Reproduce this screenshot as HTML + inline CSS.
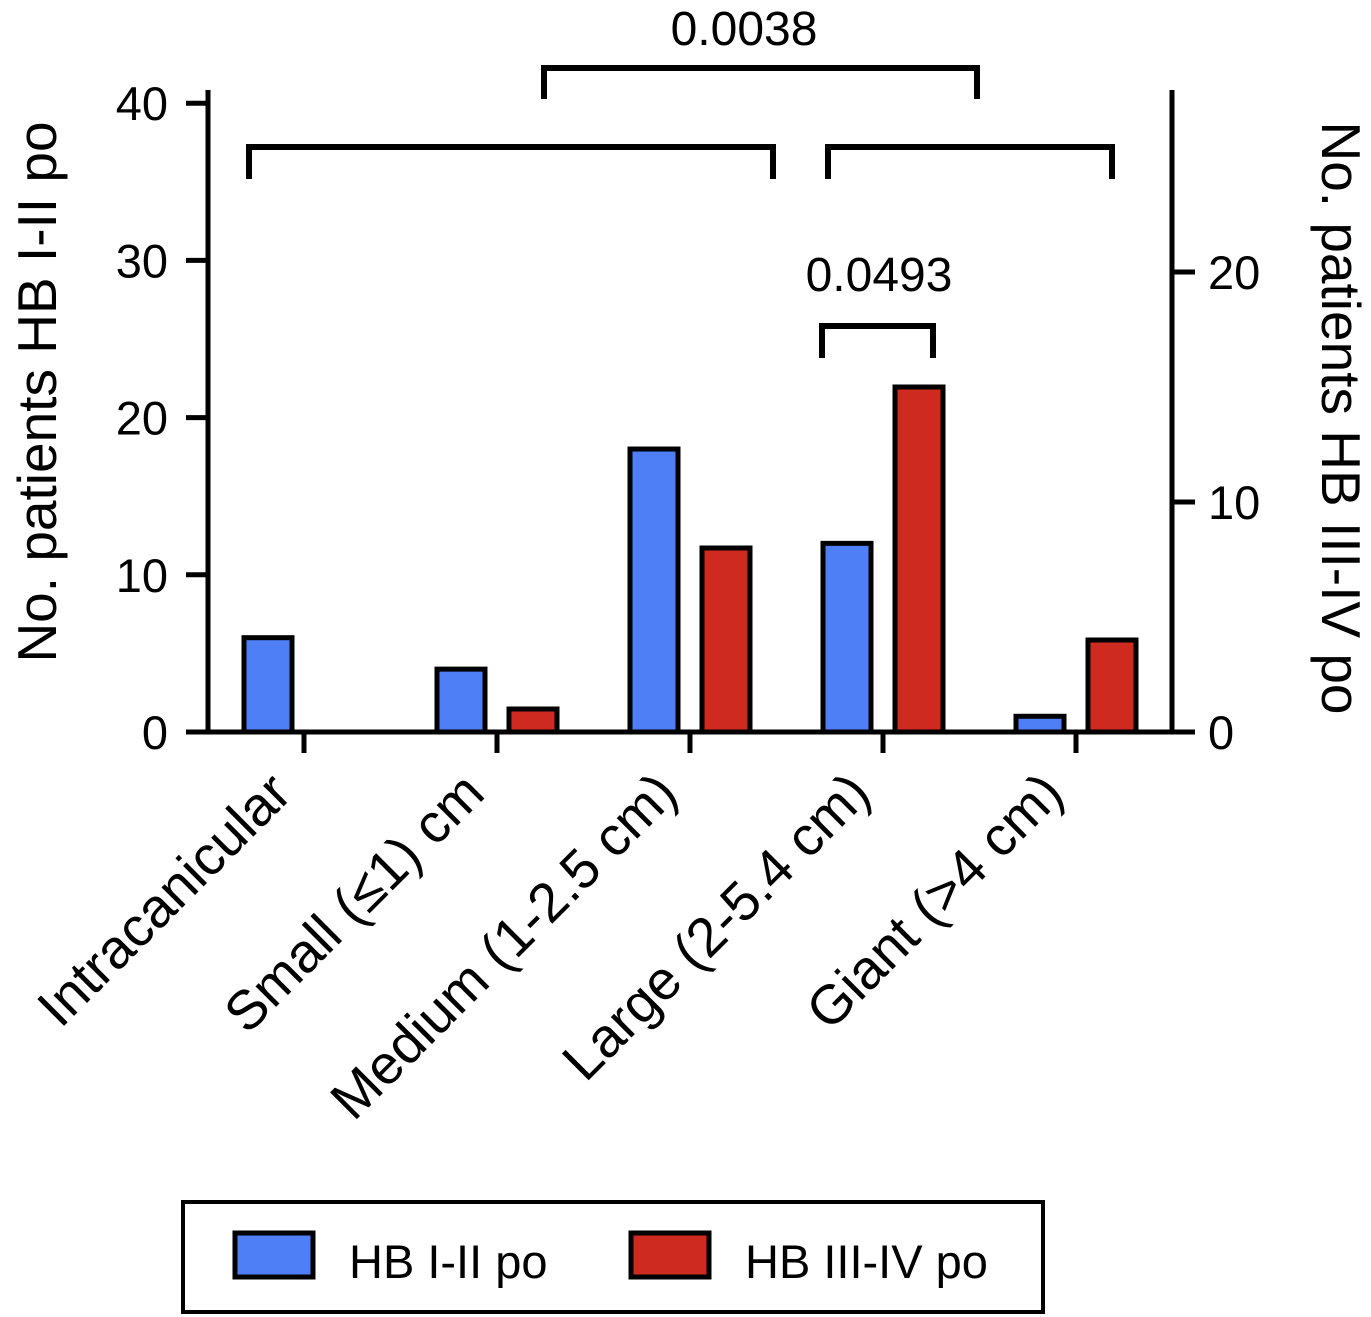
<!DOCTYPE html>
<html><head><meta charset="utf-8"><style>
html,body{margin:0;padding:0;background:#fff}
svg{display:block;font-family:"Liberation Sans",Arial,sans-serif}
</style></head><body>
<svg id="chart" width="1371" height="1317" viewBox="0 0 1371 1317">
<g id="axes"></g><g id="bars"></g><g id="ann"></g>
<g>
<rect x="183" y="1202" width="860" height="110" fill="#fff" stroke="#000" stroke-width="4"/>
<rect x="235" y="1233" width="78" height="44" fill="#4f7ff7" stroke="#000" stroke-width="5"/>
<text x="349" y="1278" font-size="47">HB I-II po</text>
<rect x="631" y="1233" width="78" height="44" fill="#cf2a1f" stroke="#000" stroke-width="5"/>
<text x="745" y="1278" font-size="47">HB III-IV po</text>
</g>
</svg>
<script>
const categories = ["Intracanicular","Small (\u22641) cm","Medium (1-2.5 cm)","Large (2-5.4 cm)","Giant (>4 cm)"];
const hbLow = [6,4,18,12,1];
const hbHigh = [0,1,8,15,4];
const leftTicks = [0,10,20,30,40];
const rightTicks = [0,10,20];

const NS="http://www.w3.org/2000/svg";
const axisY0=732, x0=208, x1=1172;
const yL = v => axisY0 - v*15.72;
const yR = v => axisY0 - v*23.0;
const xTick = i => 304 + i*193;
function mk(tag, attrs, parent, txt){
  const e=document.createElementNS(NS,tag);
  for(const k in attrs) e.setAttribute(k,attrs[k]);
  if(txt!==undefined) e.textContent=txt;
  parent.appendChild(e); return e;
}
const axes=document.getElementById('axes');
const bars=document.getElementById('bars');
const ann=document.getElementById('ann');
let e;
e=mk('line',{x1:x0,y1:90,x2:x0,y2:axisY0+2,stroke:'#000','stroke-width':5},axes);


e=mk('line',{x1:x1,y1:90,x2:x1,y2:axisY0+2,stroke:'#000','stroke-width':5},axes);


e=mk('line',{x1:x0-2,y1:axisY0,x2:x1+2,y2:axisY0,stroke:'#000','stroke-width':5},axes);


leftTicks.forEach(v=>{
  e=mk('line',{x1:186,y1:yL(v),x2:x0,y2:yL(v),stroke:'#000','stroke-width':5},axes);
  
  
  e=mk('text',{x:168,y:yL(v)+17,'font-size':47,'text-anchor':'end'},axes,String(v));
  
  
});
rightTicks.forEach(v=>{
  e=mk('line',{x1:x1,y1:yR(v),x2:1195,y2:yR(v),stroke:'#000','stroke-width':5},axes);
  
  
  e=mk('text',{x:1208,y:yR(v)+17,'font-size':47},axes,String(v));
  
  
});
e=mk('text',{transform:'translate(56,392) rotate(-90)','font-size':55,'text-anchor':'middle'},axes,'No. patients HB I-II po');


e=mk('text',{transform:'translate(1322,418) rotate(90)','font-size':55,'text-anchor':'middle'},axes,'No. patients HB III-IV po');


categories.forEach((c,i)=>{
  const tx=xTick(i);
  e=mk('line',{x1:tx,y1:axisY0,x2:tx,y2:753,stroke:'#000','stroke-width':5},axes);
  
  
  e=mk('text',{transform:`translate(${tx-10},${796}) rotate(-45)`,'font-size':55,'text-anchor':'end'},axes,c);
  
  
  const bw=48;
  if(hbLow[i]>0){
    const t=yL(hbLow[i]);
    e=mk('rect',{x:xTick(i)-60,y:t,width:bw,height:axisY0-t,fill:'#4f7ff7',stroke:'#000','stroke-width':5},bars);
    
    
  }
  if(hbHigh[i]>0){
    const t=yR(hbHigh[i]);
    e=mk('rect',{x:xTick(i)+12,y:t,width:bw,height:axisY0-t,fill:'#cf2a1f',stroke:'#000','stroke-width':5},bars);
    
    
  }
});
function bracket(xa,xb,y,y2,name){
  e=mk('path',{d:`M${xa},${y2} L${xa},${y} L${xb},${y} L${xb},${y2}`,fill:'none',stroke:'#000','stroke-width':6},ann);
  
  
}
bracket(544,977,68,99,'significance-bracket-top');
bracket(249,773,147,179,'significance-bracket-left');
bracket(828,1112,147,179,'significance-bracket-right');
bracket(822,933,326,358,'significance-bracket-large');
e=mk('text',{x:744,y:45,'font-size':48,'text-anchor':'middle'},ann,'0.0038');


e=mk('text',{x:879,y:291,'font-size':48,'text-anchor':'middle'},ann,'0.0493');


</script>
</body></html>
